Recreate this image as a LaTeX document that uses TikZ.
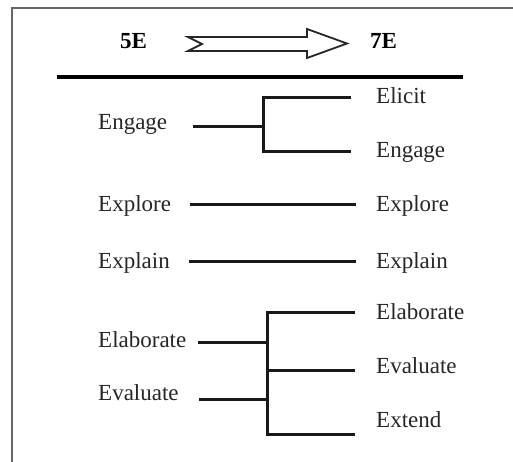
\documentclass[tikz,border=0pt]{standalone}
\usepackage{fontspec}
\setmainfont{Liberation Serif}
\begin{document}
\begin{tikzpicture}[x=1pt,y=-1pt,
  lbl/.style={anchor=base west,inner sep=0pt,text=black!85,font=\fontsize{23}{23}\selectfont},
  hdr/.style={anchor=base west,inner sep=0pt,font=\fontsize{23}{23}\selectfont\bfseries},
  conn/.style={line width=3pt,line cap=butt,draw=black!90},
  frame/.style={draw=black!60,line width=2pt}]
\useasboundingbox (0,0) rectangle (513,461);
% frame
\draw[frame] (12,470) -- (12,8) -- (520,8);
% header
\node[hdr] (h5) at (120,48) {5E};
\node[hdr] (h7) at (370,48) {7E};
\draw[line width=1.8pt,line join=miter,draw=black!85] (188,37) -- (307,37) -- (307,29) -- (347,43.5) -- (307,58) -- (307,51) -- (188,51) -- (202,44) -- cycle;
\coordinate (r1) at (57,77);
\coordinate (r2) at (463,77);
\draw[line width=4pt] (r1) -- (r2);
% left labels
\node[lbl] (l1) at (98,129) {Engage};
\node[lbl] (l2) at (98,211) {Explore};
\node[lbl] (l3) at (98,268) {Explain};
\node[lbl] (l4) at (98,347) {Elaborate};
\node[lbl] (l5) at (98,400) {Evaluate};
% right labels
\node[lbl] (r1a) at (376,103) {Elicit};
\node[lbl] (r1b) at (376,157) {Engage};
\node[lbl] (r2a) at (376,211) {Explore};
\node[lbl] (r3a) at (376,268) {Explain};
\node[lbl] (r4a) at (376,319) {Elaborate};
\node[lbl] (r4b) at (376,373) {Evaluate};
\node[lbl] (r4c) at (376,427) {Extend};
% connector points
\coordinate (s1) at (193,126);
\coordinate (j1) at (263,126);
\coordinate (t1a) at (351,97);
\coordinate (t1b) at (351,151);
\coordinate (s2) at (190,204);
\coordinate (t2) at (356,204);
\coordinate (s3) at (189,261);
\coordinate (t3) at (356,261);
\coordinate (s4) at (198,342);
\coordinate (j4) at (267,342);
\coordinate (s5) at (199,399);
\coordinate (j5) at (267,399);
\coordinate (t4a) at (355,312);
\coordinate (t4b) at (355,370);
\coordinate (t4c) at (355,434);
% connectors
\draw[conn] (s1) -- (j1);
\draw[conn] (t1a) -| (j1) |- (t1b);
\draw[conn] (s2) -- (t2);
\draw[conn] (s3) -- (t3);
\draw[conn] (s4) -- (j4);
\draw[conn] (s5) -- (j5);
\draw[conn] (t4a) -| (j4) -- (j5) |- (t4c);
\draw[conn] (j4 |- t4b) -- (t4b);
\end{tikzpicture}
\end{document}
